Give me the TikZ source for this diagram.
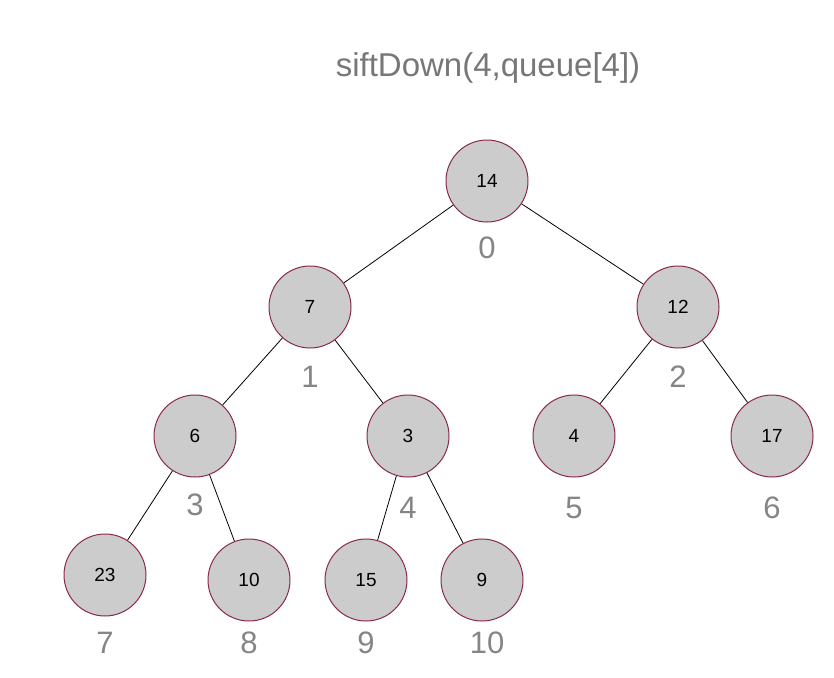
\documentclass[tikz,border=0pt]{standalone}
\usepackage{fontspec}
\setmainfont{Liberation Sans}
\usepackage{xcolor}
\usepackage{tikz}
\usetikzlibrary{positioning}
\definecolor{heapfill}{HTML}{CCCCCC}
\definecolor{heapborder}{HTML}{8A2A48}
\definecolor{idxgray}{HTML}{858585}
\definecolor{titlegray}{HTML}{777777}

\begin{document}
\begin{tikzpicture}[x=1pt, y=-1pt,
  heapnode/.style={circle, draw=heapborder, fill=heapfill, line width=1pt,
                   minimum size=82pt, inner sep=0pt, font=\fontsize{19}{22}\selectfont},
  idx/.style={text=idxgray, inner sep=0pt, font=\fontsize{31}{35}\selectfont},
  link/.style={draw=black, line width=0.8pt}]
  \useasboundingbox (0,0) rectangle (834,677);

  \node[text=titlegray, font=\fontsize{33}{38}\selectfont] (title) at (488,68) {siftDown(4,queue[4])};

  % heap nodes
  \node[heapnode] (n0) at (487,181) {14};
  \node[heapnode] (n1) at (310,307) {7};
  \node[heapnode] (n2) at (678,307) {12};
  \node[heapnode] (n3) at (195,436) {6};
  \node[heapnode] (n4) at (408,436) {3};
  \node[heapnode] (n5) at (574,436) {4};
  \node[heapnode] (n6) at (772,436) {17};
  \node[heapnode] (n7) at (105,575) {23};
  \node[heapnode] (n8) at (249,580) {10};
  \node[heapnode] (n9) at (366,580) {15};
  \node[heapnode] (n10) at (482,580) {9};

  % array indices
  \node[idx] (i0) at (487,248) {0};
  \node[idx] (i1) at (310,377) {1};
  \node[idx] (i2) at (678,377) {2};
  \node[idx] (i3) at (195,505) {3};
  \node[idx] (i4) at (408,508) {4};
  \node[idx] (i5) at (574,508) {5};
  \node[idx] (i6) at (772,508) {6};
  \node[idx] (i7) at (105,643) {7};
  \node[idx] (i8) at (249,643) {8};
  \node[idx] (i9) at (366,643) {9};
  \node[idx] (i10) at (487,643) {10};

  % edges
  \draw[link] (n0) -- (n1);
  \draw[link] (n0) -- (n2);
  \draw[link] (n1) -- (n3);
  \draw[link] (n1) -- (n4);
  \draw[link] (n2) -- (n5);
  \draw[link] (n2) -- (n6);
  \draw[link] (n3) -- (n7);
  \draw[link] (n3) -- (n8);
  \draw[link] (n4) -- (n9);
  \draw[link] (n4) -- (n10);
\end{tikzpicture}
\end{document}
